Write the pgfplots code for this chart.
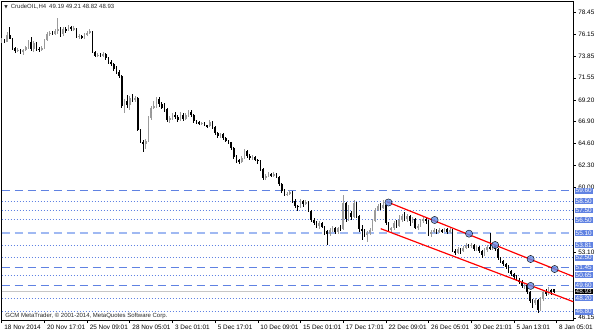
\documentclass[border=0pt]{standalone}
\usepackage{fontspec}
\setmainfont{Liberation Sans}
\newfontfamily\dejavu{DejaVu Sans}
\usepackage{pgfplots}
\usepackage{pgfplotstable}
\pgfplotsset{compat=1.18}
\definecolor{lvl}{RGB}{96,130,226}
\definecolor{lvllight}{RGB}{160,185,242}
\definecolor{boxblue}{RGB}{96,130,226}
\definecolor{bull}{RGB}{155,155,155}
\definecolor{circ}{RGB}{100,140,232}
\newcommand{\lab}{\fontsize{6.4}{7}\selectfont}
\pgfplotstableread{
i o h l c
0 75.40 75.75 75.25 75.55
1 75.55 75.70 75.20 75.35
2 75.35 76.40 75.30 76.10
3 76.10 76.90 75.60 75.70
4 75.70 75.80 74.50 74.70
5 74.70 74.85 74.20 74.40
6 74.40 74.70 74.25 74.50
7 74.50 74.60 74.10 74.30
8 74.30 74.60 74.00 74.45
9 74.45 74.95 74.35 74.80
10 74.80 75.50 74.60 75.30
11 75.30 75.90 74.40 74.60
12 74.60 75.40 74.30 75.20
13 75.20 75.30 74.40 74.60
14 74.60 74.80 74.30 74.50
15 74.50 74.90 74.35 74.70
16 74.70 75.70 74.60 75.50
17 75.50 76.40 75.40 76.20
18 76.20 76.55 76.00 76.30
19 76.30 76.50 76.05 76.20
20 76.20 76.70 76.10 76.50
21 76.50 77.90 76.20 76.70
22 76.70 76.90 75.90 76.20
23 76.20 76.95 76.00 76.70
24 76.70 76.90 76.30 76.60
25 76.60 77.10 76.50 76.90
26 76.90 77.05 76.50 76.70
27 76.70 77.00 76.55 76.80
28 76.80 76.85 75.80 75.90
29 75.90 76.20 75.70 76.00
30 76.00 76.10 75.65 75.80
31 75.80 76.25 75.70 76.10
32 76.10 76.50 76.00 76.30
33 76.30 76.70 76.20 76.45
34 76.45 76.50 74.20 74.30
35 74.30 74.40 73.70 73.90
36 73.90 74.20 73.75 74.00
37 74.00 74.15 73.70 73.85
38 73.85 74.30 73.70 74.10
39 74.10 74.20 73.40 73.60
40 73.60 73.80 73.00 73.20
41 73.20 73.40 72.80 73.00
42 73.00 73.10 72.30 72.50
43 72.50 72.80 72.00 72.20
44 72.20 72.40 71.50 71.70
45 71.70 71.80 68.40 68.60
46 68.60 69.30 67.80 69.10
47 69.10 69.70 68.40 68.70
48 68.70 69.60 68.10 69.40
49 69.40 69.80 69.00 69.20
50 69.20 69.60 69.00 69.40
51 69.40 69.50 65.90 66.00
52 66.00 66.10 64.60 64.80
53 64.80 65.00 63.70 64.50
54 64.50 65.10 64.00 64.90
55 64.90 67.50 64.80 67.30
56 67.30 68.60 67.10 68.40
57 68.40 69.10 68.20 68.60
58 68.60 69.55 68.40 69.30
59 69.30 69.50 68.50 68.80
60 68.80 69.00 68.20 68.40
61 68.40 68.90 67.90 68.20
62 68.20 68.30 66.90 67.10
63 67.10 67.50 66.80 67.30
64 67.30 67.80 67.10 67.60
65 67.60 67.90 67.20 67.40
66 67.40 67.60 66.90 67.10
67 67.10 67.90 67.00 67.60
68 67.60 67.80 67.00 67.20
69 67.20 67.80 67.10 67.60
70 67.60 68.15 67.40 67.90
71 67.90 68.10 67.40 67.60
72 67.60 67.70 66.80 67.00
73 67.00 67.10 66.70 66.90
74 66.90 67.00 66.60 66.70
75 66.70 66.90 66.50 66.80
76 66.80 66.90 66.40 66.50
77 66.50 66.60 66.20 66.40
78 66.40 67.10 66.30 66.90
79 66.90 67.00 66.10 66.30
80 66.30 66.40 65.50 65.70
81 65.70 65.80 65.20 65.40
82 65.40 65.70 65.20 65.60
83 65.60 65.70 65.00 65.20
84 65.20 65.30 64.70 64.90
85 64.90 65.00 64.50 64.70
86 64.70 64.80 63.90 64.10
87 64.10 64.20 63.00 63.20
88 63.20 63.40 62.50 62.80
89 62.80 63.00 62.40 62.60
90 62.60 63.30 62.50 63.10
91 63.10 64.00 63.00 63.80
92 63.80 63.95 63.10 63.30
93 63.30 63.50 62.90 63.10
94 63.10 63.40 62.90 63.20
95 63.20 63.30 62.70 62.90
96 62.90 63.00 62.40 62.70
97 62.70 62.80 61.70 61.90
98 61.90 62.00 60.70 60.90
99 60.90 61.40 60.70 61.20
100 61.20 61.60 61.00 61.40
101 61.40 61.50 61.00 61.20
102 61.20 61.60 61.10 61.40
103 61.40 61.50 60.90 61.10
104 61.10 61.20 60.10 60.30
105 60.30 60.40 59.40 59.60
106 59.60 59.80 59.00 59.20
107 59.20 59.50 59.00 59.30
108 59.30 59.70 59.10 59.50
109 59.50 59.60 58.30 58.50
110 58.50 58.70 57.80 58.00
111 58.00 58.10 57.50 57.90
112 57.90 58.70 57.80 58.50
113 58.50 58.60 57.90 58.20
114 58.20 58.60 58.10 58.40
115 58.40 58.50 57.30 57.50
116 57.50 57.60 56.30 56.50
117 56.50 56.70 56.00 56.20
118 56.20 56.40 55.70 55.90
119 55.90 56.40 55.50 56.20
120 56.20 56.30 55.60 55.80
121 55.80 55.90 54.90 55.30
122 55.30 55.40 53.90 55.00
123 55.00 55.60 54.80 55.40
124 55.40 55.90 55.20 55.70
125 55.70 55.80 55.00 55.20
126 55.20 55.80 55.00 55.60
127 55.60 56.00 55.30 55.50
128 55.50 59.15 55.40 58.30
129 58.30 58.40 56.30 56.60
130 56.60 58.10 56.40 57.20
131 57.20 57.50 56.50 56.80
132 56.80 58.60 56.70 58.30
133 58.30 58.40 56.70 56.90
134 56.90 57.00 55.20 55.50
135 55.50 56.00 54.40 55.30
136 55.30 55.50 54.70 54.90
137 54.90 55.30 54.20 55.10
138 55.10 55.60 54.90 55.40
139 55.40 56.60 55.30 56.40
140 56.40 57.80 56.30 57.60
141 57.60 58.20 57.40 58.00
142 58.00 58.30 57.60 57.80
143 57.80 58.60 57.70 58.10
144 58.10 58.20 56.00 56.20
145 56.20 56.30 55.20 55.40
146 55.40 55.80 55.20 55.60
147 55.60 56.40 55.40 56.20
148 56.20 56.50 55.70 55.90
149 55.90 57.00 55.80 56.50
150 56.50 57.10 56.30 56.90
151 56.90 57.38 56.40 56.60
152 56.60 57.10 56.30 56.90
153 56.90 57.00 55.90 56.40
154 56.40 56.80 56.20 56.60
155 56.60 56.70 55.50 55.70
156 55.70 56.10 55.40 55.90
157 55.90 56.60 55.80 56.40
158 56.40 56.80 56.20 56.60
159 56.60 56.80 56.10 56.40
160 56.40 56.50 54.80 55.00
161 55.00 55.40 54.70 55.20
162 55.20 55.60 55.10 55.40
163 55.40 55.50 55.00 55.20
164 55.20 55.60 55.10 55.40
165 55.40 55.50 55.10 55.30
166 55.30 55.70 55.20 55.50
167 55.50 55.60 55.00 55.20
168 55.20 55.60 55.10 55.40
169 55.40 55.50 53.10 53.20
170 53.20 53.40 52.80 53.00
171 53.00 53.60 52.90 53.40
172 53.40 53.50 52.90 53.20
173 53.20 53.70 53.10 53.50
174 53.50 54.10 53.40 53.90
175 53.90 54.00 53.50 53.70
176 53.70 54.10 53.50 53.90
177 53.90 54.00 53.20 53.40
178 53.40 53.80 53.20 53.60
179 53.60 53.70 53.00 53.20
180 53.20 53.30 52.50 52.80
181 52.80 53.50 52.70 53.30
182 53.30 53.85 53.10 53.60
183 53.60 55.10 53.30 53.50
184 53.50 53.90 53.30 53.70
185 53.70 53.80 53.20 53.40
186 53.40 53.50 52.30 52.50
187 52.50 52.60 51.90 52.20
188 52.20 52.30 51.60 51.80
189 51.80 51.90 51.30 51.50
190 51.50 51.70 50.90 51.10
191 51.10 51.20 50.60 50.80
192 50.80 50.90 50.20 50.50
193 50.50 50.70 50.00 50.20
194 50.20 50.40 49.70 49.90
195 49.90 50.10 49.30 49.50
196 49.50 49.80 49.20 49.60
197 49.60 49.70 48.70 48.90
198 48.90 49.00 47.70 47.90
199 47.90 48.10 47.20 47.70
200 47.70 48.20 47.50 48.00
201 48.00 48.10 46.66 47.00
202 47.00 48.30 46.90 48.10
203 48.10 49.10 47.90 48.90
204 48.90 49.20 48.50 48.70
205 48.70 49.40 48.60 49.10
206 49.10 49.20 48.60 48.85
207 49.19 49.21 48.82 48.93
}\candles
\pgfplotsset{
  lvldash/.style={draw=lvl, line width=1pt, dash pattern=on 8pt off 5pt},
  lvldot/.style={draw=lvl, line width=1pt, dash pattern=on 1.1pt off 1.9pt},
  candlebar/.style={only marks, mark=*, mark size=0pt, mark options={draw=none, fill=none}, error bars/.cd, y dir=both, y explicit, error mark=none, error bar style={#1}},
}
\begin{document}
\begin{tikzpicture}
\path[use as bounding box] (-1.7pt,-12.3pt) rectangle (598.3pt,320.7pt);
\begin{axis}[
  at={(0,0)}, anchor=south west,
  scale only axis, width=571.6pt, height=319pt,
  xmin=0, xmax=214.3, ymin=45.84, ymax=79.6,
  clip=false,
  axis line style={black, line width=0.6pt},
  tick style={black, line width=0.5pt},
  major tick length=2.5pt,
  tick align=outside,
  xtick pos=lower, ytick pos=upper,
  yticklabel pos=right,
  xtick={0,16,32,48,64,80,96,112,128,144,160,176,192,208},
  xticklabels={18 Nov 2014, 20 Nov 17:01, 25 Nov 09:01, 28 Nov 05:01, 3 Dec 01:01, 5 Dec 17:01, 10 Dec 09:01, 15 Dec 01:01, 17 Dec 17:01, 22 Dec 09:01, 26 Dec 05:01, 30 Dec 21:01, 5 Jan 13:01, 8 Jan 05:01},
  xticklabel style={font=\lab, anchor=north west, xshift=-0.8pt, yshift=1.5pt},
  ytick={46.15,53.10,60.00,62.30,64.60,66.90,69.20,71.55,73.85,76.15,78.45},
  yticklabel style={font=\lab, anchor=west, xshift=-1pt, /pgf/number format/.cd, fixed, fixed zerofill, precision=2, assume math mode=true},
  restrict y to domain=0:200,
]
% level lines
\addplot[lvldash] coordinates {(0,59.60) (214.3,59.60)};
\addplot[draw=lvllight, line width=1.5pt, dash pattern=on 8pt off 5pt] coordinates {(0,55.10) (214.3,55.10)};
\addplot[lvldash] coordinates {(0,51.45) (214.3,51.45)};
\addplot[lvldash] coordinates {(0,49.60) (214.3,49.60)};
\addplot[lvldot] coordinates {(0,58.50) (214.3,58.50)};
\addplot[lvldot] coordinates {(0,57.50) (214.3,57.50)};
\addplot[lvldot] coordinates {(0,56.50) (214.3,56.50)};
\addplot[lvldot] coordinates {(0,53.81) (214.3,53.81)};
\addplot[lvldot] coordinates {(0,52.50) (214.3,52.50)};
\addplot[lvldot] coordinates {(0,50.65) (214.3,50.65)};
\addplot[lvldot] coordinates {(0,48.20) (214.3,48.20)};
\addplot[lvldot] coordinates {(0,46.80) (214.3,46.80)};
\addplot[draw=black!22, line width=0.6pt] coordinates {(0,48.93) (214.3,48.93)};
% wicks
\addplot[candlebar={line width=0.55pt, draw=black}]
  table[x=i, y expr={ifthenelse(\thisrow{c}>\thisrow{o}, -100, (\thisrow{h}+\thisrow{l})/2)}, y error expr={(\thisrow{h}-\thisrow{l})/2}] {\candles};
\addplot[candlebar={line width=0.55pt, draw=bull}]
  table[x=i, y expr={ifthenelse(\thisrow{c}>\thisrow{o}, (\thisrow{h}+\thisrow{l})/2, -100)}, y error expr={(\thisrow{h}-\thisrow{l})/2}] {\candles};
% bodies
\addplot[candlebar={line width=1.6pt, draw=black}]
  table[x=i, y expr={ifthenelse(\thisrow{c}>\thisrow{o}, -100, (\thisrow{o}+\thisrow{c})/2)}, y error expr={max(abs(\thisrow{c}-\thisrow{o})/2,0.04)}] {\candles};
\addplot[candlebar={line width=1.6pt, draw=bull}]
  table[x=i, y expr={ifthenelse(\thisrow{c}>\thisrow{o}, (\thisrow{o}+\thisrow{c})/2, -100)}, y error expr={max(abs(\thisrow{c}-\thisrow{o})/2,0.04)}] {\candles};
% channel
\addplot[draw=red, line width=1.2pt] coordinates {(144.4,58.43) (214.3,50.52)};
\addplot[draw=red, line width=1.2pt] coordinates {(142.1,55.58) (214.3,47.85)};
% anchor points
\addplot[only marks, mark=*, mark size=3.6pt, mark options={draw=none, fill=circ, fill opacity=0.8}]
  coordinates {(145.0,58.35) (162.3,56.50) (175.2,55.05) (185.0,53.85) (198.3,52.37) (207.3,51.31) (198.3,49.52)};
% right labels
\pgfplotsinvokeforeach{59.60,58.50,57.50,56.50,55.10,53.81,52.50,51.45,50.65,49.60,48.20,46.80}{
  \node[fill=boxblue, text=white, anchor=west, inner xsep=1.2pt, inner ysep=0.7pt, font=\lab] at (axis cs:214.3,#1) [xshift=1pt] {#1};
}
\node[fill=black, text=white, anchor=west, inner xsep=1.2pt, inner ysep=0.7pt, font=\lab] at (axis cs:214.3,48.93) [xshift=1pt] {48.93};
% texts
\node[anchor=south west, inner sep=0pt, font=\fontsize{6}{7}\selectfont, text=black!85] at (rel axis cs:0,0) [xshift=3.5pt, yshift=2.2pt] {GCM MetaTrader, © 2001-2014, MetaQuotes Software Corp.};
\node[anchor=west, inner sep=0pt, font=\fontsize{6}{7}\selectfont, text=black!85] at (rel axis cs:0,1) [xshift=2.5pt, yshift=-5pt] {{\dejavu\fontsize{4.5}{5}\selectfont ▼}\hspace{3pt}CrudeOIL,H4\hspace{3pt}49.19 49.21 48.82 48.93};
\end{axis}
\end{tikzpicture}
\end{document}
